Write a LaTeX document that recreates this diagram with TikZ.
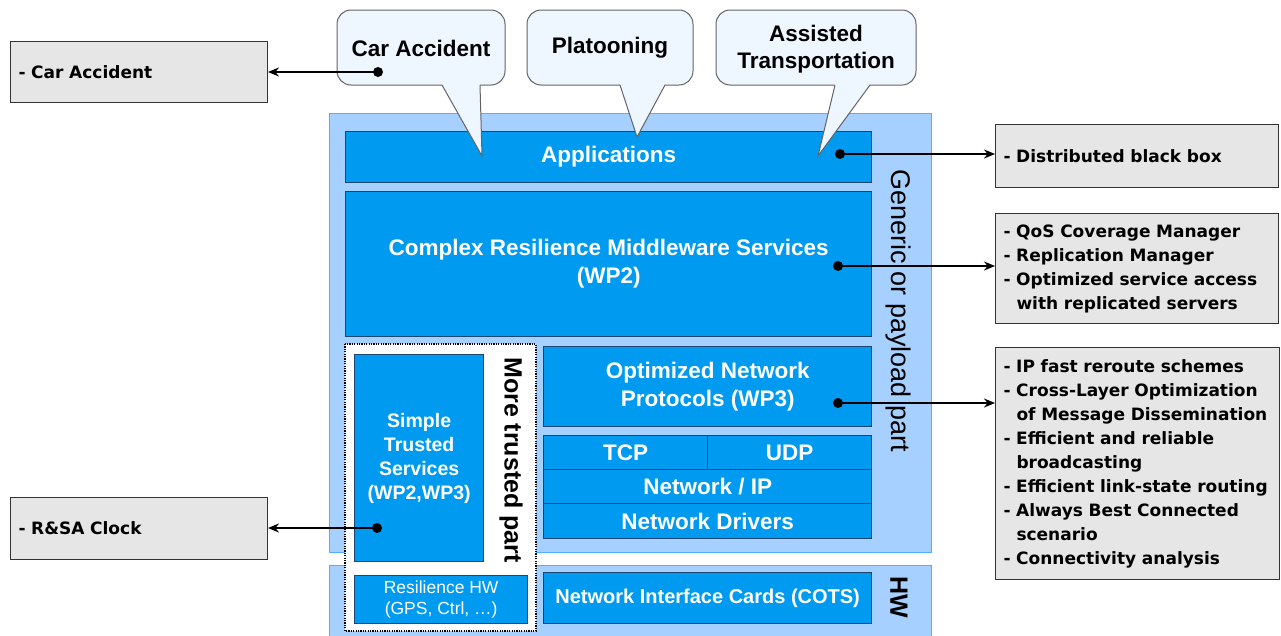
\documentclass[tikz,border=0pt]{standalone}
\usepackage{fontspec}
\setmainfont{Liberation Sans}
\newfontfamily\dvfont{DejaVu Sans}
\usetikzlibrary{arrows.meta}
\definecolor{lightreg}{RGB}{166,208,255}
\definecolor{lightedge}{RGB}{80,175,255}
\definecolor{bluebox}{RGB}{0,155,240}
\definecolor{blueedge}{RGB}{30,70,115}
\definecolor{bubblefill}{RGB}{238,246,255}
\definecolor{bubbleedge}{RGB}{100,100,100}
\definecolor{graybox}{RGB}{230,230,230}
\tikzset{
 region/.style={fill=lightreg, draw=lightedge, line width=1pt},
 bbox/.style={fill=bluebox, draw=blueedge, line width=1.3pt, text=white,
   font=\bfseries\fontsize{22.5}{28}\selectfont, align=center, inner sep=0pt, anchor=north west},
 gbox/.style={fill=graybox, draw=black!80, line width=1pt,
   font=\dvfont\bfseries\fontsize{17}{24}\selectfont, align=left, inner xsep=8pt, inner ysep=0pt, anchor=north west},
 bubble/.style={fill=bubblefill, draw=bubbleedge, line width=1pt, rounded corners=14pt},
 tailfill/.style={fill=bubblefill},
 tailedge/.style={draw=bubbleedge, line width=1pt},
 btext/.style={font=\bfseries\fontsize{22.5}{27}\selectfont, align=center},
 dot/.style={circle, fill=black, inner sep=0pt, minimum size=10pt},
 conn/.style={line width=2.4pt, -{Stealth[length=11pt,width=9pt]}},
 trusted/.style={fill=white, draw=black, line width=1.3pt, dash pattern=on 1.2pt off 1.2pt},
}
\newcommand{\ind}{\hspace*{13pt}}
\begin{document}
\begin{tikzpicture}[x=1pt,y=-1pt]
\useasboundingbox (0,0) rectangle (1281,635);
% regions
\draw[region] (329,113) rectangle (931,552);
\draw[region] (329,565) rectangle (931,640);
\draw[trusted] (345,344) rectangle (536,631);
% blue boxes
\node[bbox, minimum width=526pt, minimum height=51pt] (app) at (345,131) {Applications};
\node[bbox, minimum width=526pt, minimum height=145pt] (crm) at (345,191) {Complex Resilience Middleware Services\\(WP2)};
\node[bbox, minimum width=328pt, minimum height=80pt] (onp) at (543,346) {Optimized Network\\Protocols (WP3)};
\node[bbox, minimum width=164pt, minimum height=34pt] (tcp) at (543,435) {TCP};
\node[bbox, minimum width=164pt, minimum height=34pt] (udp) at (707,435) {UDP};
\node[bbox, minimum width=328pt, minimum height=34pt] (nip) at (543,469) {Network / IP};
\node[bbox, minimum width=328pt, minimum height=35pt] (ndr) at (543,503) {Network Drivers};
\node[bbox, minimum width=328pt, minimum height=51pt, font=\bfseries\fontsize{20}{24}\selectfont] (nic) at (543,572) {Network Interface Cards (COTS)};
\node[bbox, minimum width=129pt, minimum height=207pt, font=\bfseries\fontsize{19.5}{24}\selectfont] (sts) at (354,354) {Simple\\Trusted\\Services\\(WP2,WP3)};
\node[bbox, minimum width=173pt, minimum height=48pt, font=\fontsize{17.5}{21}\selectfont] (rhw) at (354,575) {Resilience HW\\(GPS, Ctrl, \ldots)};
% vertical labels
\node[rotate=-90, font=\bfseries\fontsize{25}{28}\selectfont] (mtp) at (511,460) {More trusted part};
\node[rotate=-90, font=\fontsize{27}{30}\selectfont] (gen) at (898,311) {Generic or payload part};
\node[rotate=-90, font=\bfseries\fontsize{25}{28}\selectfont] (hw) at (899,597) {HW};
% callouts
\draw[bubble] (337,10) rectangle (505,85);
\fill[tailfill] (442,84) -- (480,84) -- (482,156) -- cycle;
\draw[tailedge] (442,85) -- (482,156) -- (480,85);
\node[btext] (car) at (421,48) {Car Accident};
\draw[bubble] (527,10) rectangle (693,85);
\fill[tailfill] (620,84) -- (665,84) -- (637,137) -- cycle;
\draw[tailedge] (620,85) -- (637,137) -- (665,85);
\node[btext] (plat) at (610,48) {Platooning};
\draw[bubble] (716,10) rectangle (916,85);
\fill[tailfill] (835,84) -- (870,84) -- (818,156) -- cycle;
\draw[tailedge] (835,85) -- (818,156) -- (870,85);
\node[btext] (assist) at (816,49) {Assisted\\Transportation};
% gray boxes
\node[gbox, text width=241pt, minimum height=61pt] (lcar) at (10,41) {- Car Accident};
\node[gbox, text width=241pt, minimum height=62pt] (lclock) at (10,497) {- R\&SA Clock};
\node[gbox, text width=267pt, minimum height=63pt] (rbb) at (995,124) {- Distributed black box};
\node[gbox, text width=267pt, minimum height=110pt] (rqos) at (995,213) {- QoS Coverage Manager\\- Replication Manager\\- Optimized service access\\\ind with replicated servers};
\node[gbox, text width=268pt, minimum height=232pt] (rip) at (995,347) {- IP fast reroute schemes\\- Cross-Layer Optimization\\\ind of Message Dissemination\\- Efficient and reliable\\\ind broadcasting\\- Efficient link-state routing\\- Always Best Connected\\\ind scenario\\- Connectivity analysis};
% dots
\node[dot] (d1) at (378,72) {};
\node[dot] (d2) at (840,154) {};
\node[dot] (d3) at (838,266) {};
\node[dot] (d4) at (838,403) {};
\node[dot] (d5) at (377,528) {};
% connectors
\draw[conn] (d1.center) -- (d1.center -| lcar.east);
\draw[conn] (d5.center) -- (d5.center -| lclock.east);
\draw[conn] (d2.center) -- (d2.center -| rbb.west);
\draw[conn] (d3.center) -- (d3.center -| rqos.west);
\draw[conn] (d4.center) -- (d4.center -| rip.west);
\end{tikzpicture}
\end{document}
